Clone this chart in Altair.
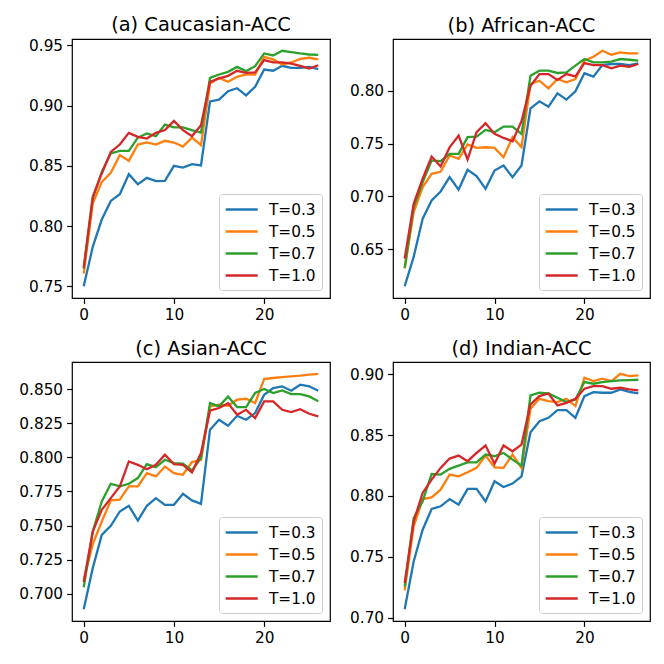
import altair as alt
import pandas as pd

epochs = list(range(27))
temps = ["T=0.3", "T=0.5", "T=0.7", "T=1.0"]
colors = ["#1f77b4", "#ff7f0e", "#2ca02c", "#d62728"]

# (a) Caucasian-ACC
cau_03 = [0.7500, 0.7827, 0.8054, 0.8209, 0.8265, 0.8431, 0.8348, 0.8400, 0.8373, 0.8375,
          0.8500, 0.8486, 0.8514, 0.8503, 0.9035, 0.9050, 0.9120, 0.9145, 0.9085, 0.9157,
          0.9300, 0.9290, 0.9331, 0.9314, 0.9314, 0.9322, 0.9303]
cau_05 = [0.7605, 0.8187, 0.8367, 0.8442, 0.8589, 0.8542, 0.8677, 0.8694, 0.8677, 0.8708,
          0.8694, 0.8660, 0.8735, 0.8672, 0.9184, 0.9231, 0.9198, 0.9240, 0.9259, 0.9259,
          0.9406, 0.9384, 0.9342, 0.9359, 0.9389, 0.9398, 0.9384]
cau_07 = [0.7647, 0.8229, 0.8450, 0.8603, 0.8625, 0.8625, 0.8735, 0.8769, 0.8747, 0.8843,
          0.8819, 0.8819, 0.8797, 0.8777, 0.9231, 0.9259, 0.9281, 0.9322, 0.9287, 0.9328,
          0.9434, 0.9417, 0.9456, 0.9445, 0.9434, 0.9425, 0.9422]
cau_10 = [0.7655, 0.8243, 0.8437, 0.8616, 0.8677, 0.8774, 0.8741, 0.8727, 0.8774, 0.8797,
          0.8874, 0.8797, 0.8747, 0.8838, 0.9198, 0.9226, 0.9248, 0.9290, 0.9273, 0.9276,
          0.9378, 0.9359, 0.9359, 0.9350, 0.9331, 0.9309, 0.9336]

# (b) African-ACC
afr_03 = [0.6151, 0.6428, 0.6789, 0.6962, 0.7047, 0.7182, 0.7063, 0.7252, 0.7192, 0.7072,
          0.7245, 0.7292, 0.7182, 0.7292, 0.7833, 0.7899, 0.7849, 0.7975, 0.7915, 0.7994,
          0.8164, 0.8132, 0.8242, 0.8252, 0.8252, 0.8242, 0.8258]
afr_05 = [0.6318, 0.6852, 0.7088, 0.7214, 0.7233, 0.7387, 0.7355, 0.7491, 0.7459, 0.7465,
          0.7459, 0.7371, 0.7560, 0.7465, 0.8063, 0.8094, 0.8022, 0.8110, 0.8079, 0.8110,
          0.8283, 0.8321, 0.8377, 0.8340, 0.8362, 0.8352, 0.8352]
afr_07 = [0.6324, 0.6900, 0.7135, 0.7340, 0.7333, 0.7403, 0.7403, 0.7560, 0.7566, 0.7629,
          0.7607, 0.7660, 0.7660, 0.7591, 0.8142, 0.8189, 0.8189, 0.8167, 0.8173, 0.8236,
          0.8299, 0.8267, 0.8267, 0.8274, 0.8299, 0.8292, 0.8283]
afr_10 = [0.6412, 0.6931, 0.7167, 0.7377, 0.7283, 0.7465, 0.7575, 0.7349, 0.7607, 0.7692,
          0.7591, 0.7553, 0.7522, 0.7711, 0.8047, 0.8157, 0.8157, 0.8101, 0.8157, 0.8135,
          0.8261, 0.8242, 0.8242, 0.8211, 0.8236, 0.8226, 0.8252]

# (c) Asian-ACC
asi_03 = [0.6887, 0.7188, 0.7432, 0.7498, 0.7603, 0.7645, 0.7537, 0.7645, 0.7701, 0.7652,
          0.7652, 0.7733, 0.7684, 0.7659, 0.8202, 0.8275, 0.8231, 0.8304, 0.8275, 0.8324,
          0.8458, 0.8507, 0.8520, 0.8488, 0.8532, 0.8520, 0.8488]
asi_05 = [0.7102, 0.7364, 0.7530, 0.7684, 0.7689, 0.7787, 0.7787, 0.7884, 0.7860, 0.7933,
          0.7884, 0.7872, 0.7965, 0.7982, 0.8373, 0.8385, 0.8378, 0.8422, 0.8429, 0.8397,
          0.8573, 0.8581, 0.8588, 0.8593, 0.8598, 0.8605, 0.8612]
asi_07 = [0.7048, 0.7456, 0.7676, 0.7806, 0.7787, 0.7806, 0.7848, 0.7950, 0.7928, 0.7982,
          0.7958, 0.7953, 0.7904, 0.7994, 0.8397, 0.8373, 0.8446, 0.8368, 0.8368, 0.8471,
          0.8500, 0.8471, 0.8490, 0.8463, 0.8463, 0.8446, 0.8410]
asi_10 = [0.7085, 0.7456, 0.7615, 0.7701, 0.7787, 0.7970, 0.7945, 0.7913, 0.7945, 0.8019,
          0.7950, 0.7945, 0.7889, 0.8031, 0.8341, 0.8361, 0.8397, 0.8312, 0.8348, 0.8287,
          0.8410, 0.8410, 0.8348, 0.8331, 0.8353, 0.8319, 0.8300]

# (d) Indian-ACC
ind_03 = [0.7069, 0.7462, 0.7723, 0.7893, 0.7915, 0.7975, 0.7929, 0.8058, 0.8058, 0.7956,
          0.8121, 0.8074, 0.8102, 0.8162, 0.8525, 0.8615, 0.8643, 0.8706, 0.8706, 0.8643,
          0.8821, 0.8854, 0.8849, 0.8849, 0.8876, 0.8857, 0.8843]
ind_05 = [0.7223, 0.7750, 0.7975, 0.7989, 0.8052, 0.8176, 0.8162, 0.8195, 0.8231, 0.8332,
          0.8236, 0.8231, 0.8341, 0.8231, 0.8717, 0.8799, 0.8780, 0.8772, 0.8799, 0.8739,
          0.8973, 0.8945, 0.8964, 0.8945, 0.9005, 0.8986, 0.8992]
ind_07 = [0.7255, 0.7819, 0.7956, 0.8181, 0.8176, 0.8223, 0.8250, 0.8277, 0.8277, 0.8341,
          0.8327, 0.8354, 0.8299, 0.8250, 0.8827, 0.8849, 0.8843, 0.8808, 0.8772, 0.8794,
          0.8937, 0.8923, 0.8937, 0.8945, 0.8951, 0.8953, 0.8956]
ind_10 = [0.7283, 0.7791, 0.8025, 0.8135, 0.8231, 0.8308, 0.8332, 0.8286, 0.8354, 0.8415,
          0.8266, 0.8415, 0.8368, 0.8423, 0.8753, 0.8821, 0.8843, 0.8745, 0.8766, 0.8799,
          0.8882, 0.8904, 0.8904, 0.8882, 0.8890, 0.8876, 0.8868]

x_ticks = [0, 10, 20]
cau_ticks = [0.75, 0.80, 0.85, 0.90, 0.95]
afr_ticks = [0.65, 0.70, 0.75, 0.80]
asi_ticks = [0.700, 0.725, 0.750, 0.775, 0.800, 0.825, 0.850]
ind_ticks = [0.70, 0.75, 0.80, 0.85, 0.90]

FONT = "DejaVu Sans"
FS = 15.3


def axis(values, fmt, extent=None):
    kw = dict(values=values, format=fmt, title=None, grid=False, domain=False,
              ticks=True, tickColor="black", tickWidth=1.2, tickSize=5.4,
              labelFont=FONT, labelFontSize=FS, labelColor="black", labelPadding=4)
    if extent is not None:
        kw.update(minExtent=extent, maxExtent=extent)
    return alt.Axis(**kw)


def panel(title, series, yticks, fmt, extent, width):
    rows = []
    for t, vals in zip(temps, series):
        for e, v in zip(epochs, vals):
            rows.append({"epoch": e, "acc": v, "T": t})
    df = pd.DataFrame(rows)
    lo = min(min(s) for s in series)
    hi = max(max(s) for s in series)
    pad = 0.05 * (hi - lo)
    xpad = 0.05 * (max(epochs) - min(epochs))
    return alt.Chart(df).mark_line(strokeWidth=2.3).encode(
        x=alt.X("epoch:Q",
                scale=alt.Scale(domain=[min(epochs) - xpad, max(epochs) + xpad], nice=False, zero=False),
                axis=axis(x_ticks, "d")),
        y=alt.Y("acc:Q",
                scale=alt.Scale(domain=[lo - pad, hi + pad], nice=False, zero=False),
                axis=axis(yticks, fmt, extent)),
        color=alt.Color("T:N", sort=temps,
                        scale=alt.Scale(domain=temps, range=colors),
                        legend=alt.Legend(
                            title=None, orient="bottom-right", offset=8,
                            symbolType="M-1.1,0H2.9", symbolSize=256,
                            symbolStrokeWidth=2.3, symbolFillColor="transparent",
                            labelFontSize=FS, labelFont=FONT, labelColor="black",
                            labelOffset=25, rowPadding=4, padding=6,
                            strokeColor="#cccccc", fillColor="rgba(255,255,255,0.8)",
                            cornerRadius=3)),
    ).properties(width=width, height=259,
                 title=alt.TitleParams(title, fontSize=19.4, font=FONT, fontWeight="normal",
                                       color="black", anchor="middle", offset=3))


a = panel("(a) Caucasian-ACC", [cau_03, cau_05, cau_07, cau_10], cau_ticks, ".2f", 63, 258)
b = panel("(b) African-ACC", [afr_03, afr_05, afr_07, afr_10], afr_ticks, ".2f", 51, 257)
c = panel("(c) Asian-ACC", [asi_03, asi_05, asi_07, asi_10], asi_ticks, ".3f", 63, 258)
d = panel("(d) Indian-ACC", [ind_03, ind_05, ind_07, ind_10], ind_ticks, ".2f", 51, 257)

chart = alt.concat(a, b, c, d, columns=2, spacing={"row": 14, "column": 10}).resolve_scale(
    color="independent", x="independent", y="independent"
).resolve_legend(color="independent").properties(
    padding={"left": 0, "top": 6, "right": 0, "bottom": 0}, background="white"
).configure_view(
    stroke="black", strokeWidth=1.2
)

chart.save("out.html", embed_options={"renderer": "svg", "actions": False})
